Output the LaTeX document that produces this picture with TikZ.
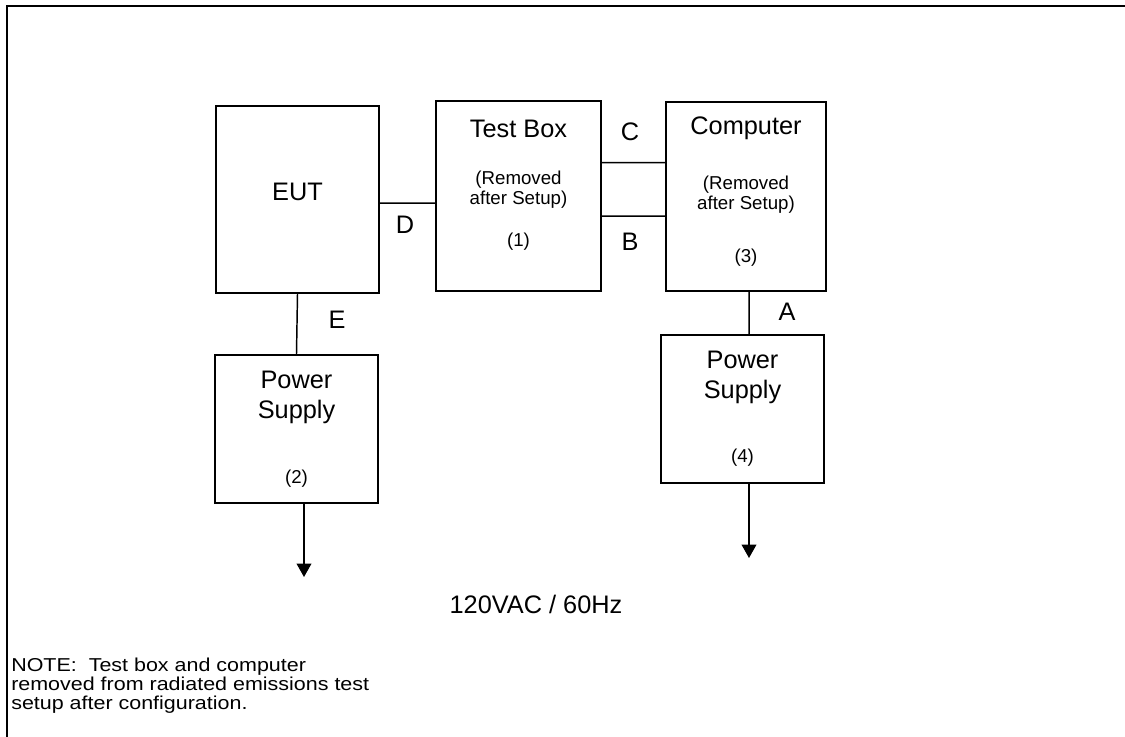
\documentclass[tikz,border=0pt]{standalone}
\usepackage{fontspec}
\setmainfont{Liberation Sans}
\newfontfamily\notefont[FakeStretch=1.15]{Liberation Sans}
\usetikzlibrary{arrows.meta, positioning, calc}

\begin{document}
\begin{tikzpicture}[x=0.75pt, y=-0.75pt,
            unit/.style={rectangle, draw, line width=1.4pt, inner sep=0pt},
            lbl/.style={inner sep=0pt, font=\fontsize{19}{22.5}\selectfont, align=center},
            sub/.style={inner sep=0pt, font=\fontsize{14}{15}\selectfont, align=center},
            wire/.style={draw, line width=1.1pt},
            feed/.style={draw, line width=1.1pt, -{Triangle[length=10pt,width=11pt]}}
            ]

            \useasboundingbox (0,0) rectangle (1125,737);
            % page frame (only left and top edges show)
            \draw[line width=1.9pt] (7,745) -- (7,6) -- (1130,6);

            %% ---- Units ----
            %% EUT
            \node[unit, minimum width=122.25pt, minimum height=140.25pt] (eut) at (297.5,199.5) {};
            \node[lbl] (eutlbl) at (297.5,192) {EUT};

            %% Test Box (1)
            \node[unit, minimum width=123.75pt, minimum height=142.5pt] (tbox) at (518.5,196) {};
            \node[lbl] (tboxlbl) at (518.5,129) {Test Box};
            \node[sub] (tboxrem) at (518.5,190) {(Removed\\after Setup)};
            \node[sub] (tboxnum) at (518.5,242) {(1)};

            %% Computer (3)
            \node[unit, minimum width=120pt, minimum height=141.75pt] (comp) at (746,196.5) {};
            \node[lbl] (complbl) at (746,128) {Computer};
            \node[sub] (comprem) at (746,195) {(Removed\\after Setup)};
            \node[sub] (compnum) at (746,258) {(3)};

            %% Power Supply (2)
            \node[unit, minimum width=122.25pt, minimum height=111pt] (psa) at (296.5,429) {};
            \node[lbl] (psalbl) at (296.5,397) {Power\\Supply};
            \node[sub] (psanum) at (296.5,479) {(2)};

            %% Power Supply (4)
            \node[unit, minimum width=122.25pt, minimum height=111pt] (psb) at (742.5,409) {};
            \node[lbl] (psblbl) at (742.5,377) {Power\\Supply};
            \node[sub] (psbnum) at (742.5,458) {(4)};

            %% mains ends
            \coordinate (mainsa) at (304,577);
            \coordinate (mainsb) at (749,558);

            %% ---- Cables ----
            % D: EUT to test box
            \draw[wire] ($(eut.north east)!0.519!(eut.south east)$) -- ($(tbox.north west)!0.537!(tbox.south west)$);
            % C and B: test box to computer
            \draw[wire] ($(tbox.north east)!0.326!(tbox.south east)$) -- ($(comp.north west)!0.323!(comp.south west)$);
            \draw[wire] ($(tbox.north east)!0.605!(tbox.south east)$) -- ($(comp.north west)!0.603!(comp.south west)$);
            % E: EUT to its power supply
            \draw[wire] (eut.south) -- (psa.north);
            % A: computer to its power supply
            \draw[wire] ($(comp.south west)!0.519!(comp.south east)$) -- ($(psb.north west)!0.540!(psb.north east)$);
            % AC feeds
            \draw[feed] (psa.south -| mainsa) -- (mainsa);
            \draw[feed] (psb.south -| mainsb) -- (mainsb);

            %% ---- Cable letters ----
            \node[lbl] (cabd) at (405,225) {D};
            \node[lbl] (cabc) at (630,132) {C};
            \node[lbl] (cabb) at (630,242) {B};
            \node[lbl] (cabe) at (337,320) {E};
            \node[lbl] (caba) at (787,312) {A};

            \node[lbl] (mains) at (536,604) {120VAC / 60Hz};

            %% note
            \node[inner sep=0pt, anchor=north west, align=left,
                  font=\notefont\fontsize{14}{14}\selectfont] (note) at (11,658)
                  {NOTE:\ \ Test box and computer\\removed from radiated emissions test\\setup after configuration.};
        \end{tikzpicture}
\end{document}
